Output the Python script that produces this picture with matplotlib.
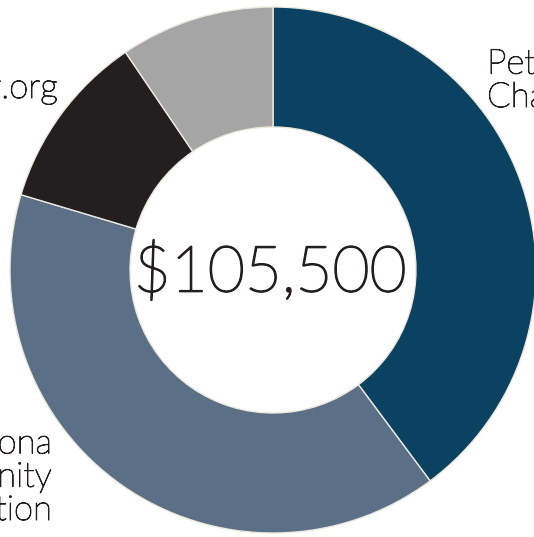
import matplotlib.pyplot as plt
import matplotlib.patheffects as pe

# gifts by donor, in dollars
donors = ["PetSmart\nCharities", "Arizona\nCommunity\nFoundation", "Petfinder.org", "(individuals)"]
amounts = [42000, 42000, 11500, 10000]
colors = ["#0b4261", "#5b7087", "#231f20", "#a5a5a5"]
total_text = "$105,500"

plt.rcParams["font.family"] = ["Lato", "DejaVu Sans"]

fig = plt.figure(figsize=(5.34, 5.37), dpi=100)
ax = fig.add_axes([0, 0, 1, 1])

R = 263
ax.pie(amounts, colors=colors, radius=R, startangle=90, counterclock=False,
       wedgeprops=dict(width=120, edgecolor="#ece8dc", linewidth=1))

ax.set_xlim(-273, 534 - 273)
ax.set_ylim(-267, 270)
ax.set_aspect("equal")
ax.axis("off")

tc = "#231f20"
thick = [pe.withStroke(linewidth=1.3, foreground=tc)]
thin = [pe.withStroke(linewidth=0.7, foreground=tc)]

ax.text(-3, -3, total_text, ha="center", va="center", fontsize=46,
        fontweight="light", color=tc, path_effects=thick)

ax.text(214, 163, donors[0], ha="left", va="baseline", fontsize=25,
        fontweight="light", color=tc, linespacing=1.05, path_effects=thin)
ax.text(-215, 172, donors[2], ha="right", va="baseline", fontsize=25,
        fontweight="light", color=tc, path_effects=thin)
ax.text(-221, -250, donors[1], ha="right", va="baseline", fontsize=25,
        fontweight="light", color=tc, linespacing=1.05, path_effects=thin)
ax.text(-73, 276, donors[3], ha="center", va="baseline", fontsize=25,
        fontweight="light", color=tc, path_effects=thin)

fig.savefig("out.png", dpi=100)
